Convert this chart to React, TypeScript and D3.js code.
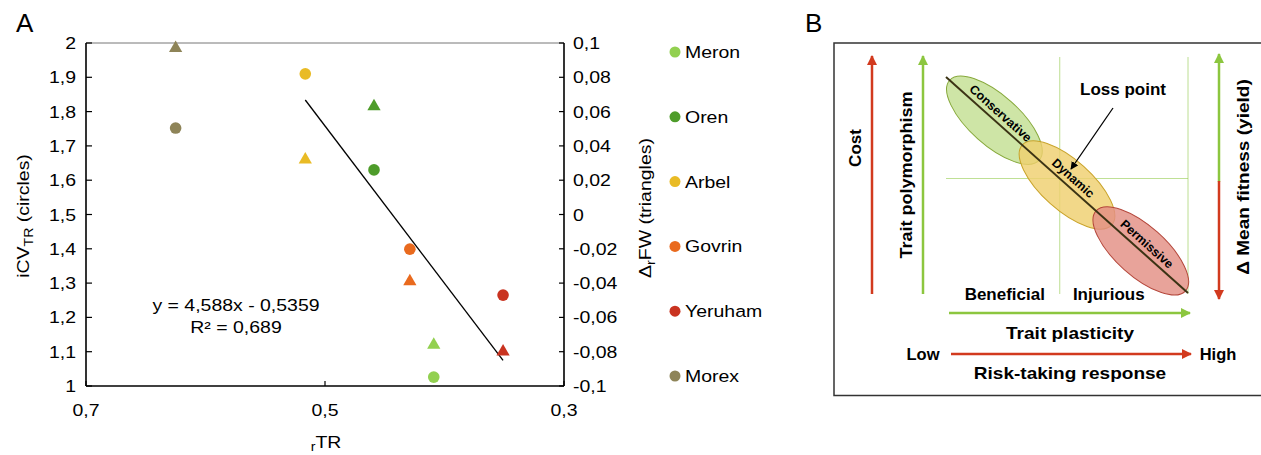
import React from "react";
import * as d3 from "d3";

// panel A data
const populations = ["Meron", "Oren", "Arbel", "Govrin", "Yeruham", "Morex"];
const rTR = [0.409, 0.459, 0.5165, 0.429, 0.351, 0.625];
const iCV = [1.026, 1.63, 1.91, 1.399, 1.265, 1.752];
const dFW = [-0.076, 0.063, 0.032, -0.039, -0.08, 0.097];
const popColors = ["#92d050", "#4e9c2a", "#e9bb25", "#e96a1e", "#c93320", "#8e8458"];
// regression fitted on the wild populations only
const fitGroup = ["Meron", "Oren", "Arbel", "Govrin", "Yeruham"];
const slope = 4.588;
const intercept = -0.5359;
const eqLabel = "y = 4,588x - 0,5359";
const r2Label = "R\u00b2 = 0,689";

const xTicks = [0.7, 0.5, 0.3];
const leftTicks = [1, 1.1, 1.2, 1.3, 1.4, 1.5, 1.6, 1.7, 1.8, 1.9, 2];
const rightTicks = [-0.1, -0.08, -0.06, -0.04, -0.02, 0, 0.02, 0.04, 0.06, 0.08, 0.1];

// panel B schematic
const zones = ["Conservative", "Dynamic", "Permissive"];
const zonePos = [0.2, 0.5, 0.805];
const zoneFill = ["#c3df93", "#efd06f", "#e38f84"];
const zoneStroke = ["#86a83a", "#c9a32a", "#b4463a"];
const plasticityLabels = ["Beneficial", "Injurious"];

const locale = d3.formatLocale({
  decimal: ",",
  thousands: ".",
  grouping: [3],
  currency: ["", ""],
  minus: "-",
});
const fmt = locale.format(".2~f");

const FONT = "'Liberation Sans', Arial, Helvetica, sans-serif";
const RED = "#d23a1e";
const GREEN = "#8cc63f";
const SX = 1.18; // the figure's lettering is a little wider than Liberation Sans

// text stretched along its own direction
const Label = ({ x, y, size, sx = 1, rotate = 0, anchor = "middle", children }: any) => (
  <text
    transform={`translate(${x},${y}) rotate(${rotate}) scale(${sx},1)`}
    fontSize={size}
    textAnchor={anchor}
  >
    {children}
  </text>
);

const PanelA = () => {
  const x = d3.scaleLinear().domain([0.7, 0.3]).range([86, 564]);
  const yL = d3.scaleLinear().domain([1, 2]).range([386, 43]);
  const yR = d3.scaleLinear().domain([-0.1, 0.1]).range([386, 43]);
  const tri = d3.symbol(d3.symbolTriangle, 76)();

  const fitX = d3.extent(
    populations.map((p, i) => (fitGroup.includes(p) ? rTR[i] : NaN)).filter((v) => !isNaN(v))
  ) as [number, number];
  const fitLine = d3
    .line<number>()
    .x((d) => x(d))
    .y((d) => yL(slope * d + intercept));

  const legendY = d3.scalePoint().domain(populations).range([52, 376]);

  return (
    <g fontFamily={FONT}>
      <text x={16} y={32} fontSize={26}>A</text>

      {/* frame */}
      <line x1={86} x2={564} y1={43} y2={43} stroke="#777" strokeWidth={1} />
      <line x1={86} x2={86} y1={43} y2={386} stroke="#000" strokeWidth={1.6} />
      <line x1={564} x2={564} y1={43} y2={386} stroke="#000" strokeWidth={1.6} />
      <line x1={86} x2={564} y1={386} y2={386} stroke="#000" strokeWidth={1.6} />

      {leftTicks.map((t) => (
        <g key={"l" + t}>
          <line x1={86} x2={92} y1={yL(t)} y2={yL(t)} stroke="#000" strokeWidth={1.2} />
          <Label x={76} y={yL(t) + 6} size={16.5} sx={SX} anchor="end">{fmt(t)}</Label>
        </g>
      ))}
      {rightTicks.map((t) => (
        <g key={"r" + t}>
          <line x1={559} x2={564} y1={yR(t)} y2={yR(t)} stroke="#000" strokeWidth={1.2} />
          <Label x={573} y={yR(t) + 6} size={16.5} sx={SX} anchor="start">{fmt(t)}</Label>
        </g>
      ))}
      {xTicks.map((t) => (
        <g key={"x" + t}>
          <line x1={x(t)} x2={x(t)} y1={381} y2={386} stroke="#000" strokeWidth={1.2} />
          <Label x={x(t)} y={416} size={16.5} sx={SX}>{fmt(t)}</Label>
        </g>
      ))}

      <Label x={29} y={216} size={16.5} sx={SX} rotate={-90}>
        iCV<tspan dy={4} fontSize={12}>TR</tspan>
        <tspan dy={-4}> (circles)</tspan>
      </Label>
      <Label x={651} y={208} size={16.5} sx={SX} rotate={-90}>
        Δ<tspan dy={4} fontSize={12}>r</tspan>
        <tspan dy={-4}>FW (triangles)</tspan>
      </Label>
      <Label x={326} y={448} size={16.5} sx={SX}>
        <tspan dy={3} fontSize={12}>r</tspan>
        <tspan dy={-3}>TR</tspan>
      </Label>

      <path d={fitLine(fitX) || ""} fill="none" stroke="#000" strokeWidth={1.3} />

      <Label x={236} y={311} size={16.5} sx={SX}>{eqLabel}</Label>
      <Label x={236} y={333} size={16.5} sx={SX}>{r2Label}</Label>

      {populations.map((p, i) => (
        <g key={p}>
          <path d={tri || ""} transform={`translate(${x(rTR[i])},${yR(dFW[i])})`} fill={popColors[i]} />
          <circle cx={x(rTR[i])} cy={yL(iCV[i])} r={5.8} fill={popColors[i]} />
        </g>
      ))}

      {populations.map((p, i) => (
        <g key={"lg" + p} transform={`translate(675,${legendY(p)})`}>
          <circle r={5.5} fill={popColors[i]} />
          <Label x={10} y={6} size={16.5} sx={SX} anchor="start">{p}</Label>
        </g>
      ))}
    </g>
  );
};

const PanelB = () => {
  // unit square of the schematic, mapped onto the diagram area
  const bx = d3.scaleLinear().domain([0, 1]).range([946, 1188]);
  const by = d3.scaleLinear().domain([0, 1]).range([77, 293]);
  const angle = (Math.atan2(by(1) - by(0), bx(1) - bx(0)) * 180) / Math.PI;
  const grid = 0.47;

  return (
    <g fontFamily={FONT} fontWeight="bold">
      <defs>
        <marker id="hRed" viewBox="0 0 10 10" refX={9} refY={5} markerWidth={4} markerHeight={4} orient="auto">
          <path d="M0,0 L10,5 L0,10 z" fill={RED} />
        </marker>
        <marker id="hGreen" viewBox="0 0 10 10" refX={9} refY={5} markerWidth={4} markerHeight={4} orient="auto">
          <path d="M0,0 L10,5 L0,10 z" fill={GREEN} />
        </marker>
        <marker id="hBlack" viewBox="0 0 10 10" refX={9} refY={5} markerWidth={6} markerHeight={6} orient="auto">
          <path d="M0,0 L10,5 L0,10 z" fill="#000" />
        </marker>
      </defs>

      <text x={805} y={32} fontSize={26} fontWeight="normal">B</text>
      <rect x={834} y={43} width={440} height={352.5} fill="none" stroke="#333" strokeWidth={1.5} />

      {/* grid */}
      <line x1={bx(grid)} x2={bx(grid)} y1={57} y2={294} stroke={GREEN} strokeWidth={0.8} opacity={0.7} />
      <line x1={bx(1)} x2={bx(1)} y1={57} y2={294} stroke={GREEN} strokeWidth={0.8} opacity={0.7} />
      <line x1={bx(0)} x2={bx(1)} y1={by(grid)} y2={by(grid)} stroke={GREEN} strokeWidth={0.8} opacity={0.7} />

      {/* vertical arrows */}
      <line x1={872} x2={872} y1={294} y2={56} stroke={RED} strokeWidth={2.5} markerEnd="url(#hRed)" />
      <line x1={923} x2={923} y1={294} y2={56} stroke={GREEN} strokeWidth={2.5} markerEnd="url(#hGreen)" />
      <line x1={1219} x2={1219} y1={182} y2={54} stroke={GREEN} strokeWidth={2.5} markerEnd="url(#hGreen)" />
      <line x1={1219} x2={1219} y1={181} y2={299} stroke={RED} strokeWidth={2.5} markerEnd="url(#hRed)" />

      <Label x={861} y={148} size={17} rotate={-90}>Cost</Label>
      <Label x={912} y={175} size={17} sx={1.06} rotate={-90}>Trait polymorphism</Label>
      <Label x={1249} y={177} size={17} sx={1.12} rotate={-90}>Δ Mean fitness (yield)</Label>

      {/* zones */}
      {zones.map((z, i) => (
        <ellipse
          key={z}
          transform={`translate(${bx(zonePos[i])},${by(zonePos[i])}) rotate(${angle})`}
          rx={60}
          ry={25}
          fill={zoneFill[i]}
          fillOpacity={0.82}
          stroke={zoneStroke[i]}
          strokeWidth={1}
        />
      ))}
      <line x1={bx(0)} y1={by(0)} x2={bx(1)} y2={by(1)} stroke="#3b3314" strokeWidth={2} />
      {zones.map((z, i) => (
        <text
          key={"t" + z}
          transform={`translate(${bx(zonePos[i])},${by(zonePos[i])}) rotate(${angle})`}
          y={-5}
          fontSize={12.5}
          textAnchor="middle"
        >
          {z}
        </text>
      ))}

      <Label x={1123} y={95} size={17}>Loss point</Label>
      <line x1={1113} y1={108} x2={1071} y2={169} stroke="#000" strokeWidth={1.3} markerEnd="url(#hBlack)" />

      {plasticityLabels.map((l, i) => (
        <Label key={l} x={bx(grid) + (i === 0 ? -55 : 49)} y={300} size={16.5} sx={1.03}>{l}</Label>
      ))}
      <line x1={949} x2={1190} y1={313} y2={313} stroke={GREEN} strokeWidth={2.5} markerEnd="url(#hGreen)" />
      <Label x={1070} y={339} size={17} sx={1.12}>Trait plasticity</Label>
      <Label x={923} y={360} size={16.5}>Low</Label>
      <line x1={951} x2={1191} y1={354} y2={354} stroke={RED} strokeWidth={2.5} markerEnd="url(#hRed)" />
      <Label x={1218} y={360} size={16.5}>High</Label>
      <Label x={1070} y={379} size={17} sx={1.12}>Risk-taking response</Label>
    </g>
  );
};

const App = () => {
  return (
    <div style={{ position: "absolute", left: 0, top: 0 }}>
      <svg width={1261} height={455} style={{ display: "block", background: "#fff" }}>
        <PanelA />
        <PanelB />
      </svg>
    </div>
  );
};

export default App;
